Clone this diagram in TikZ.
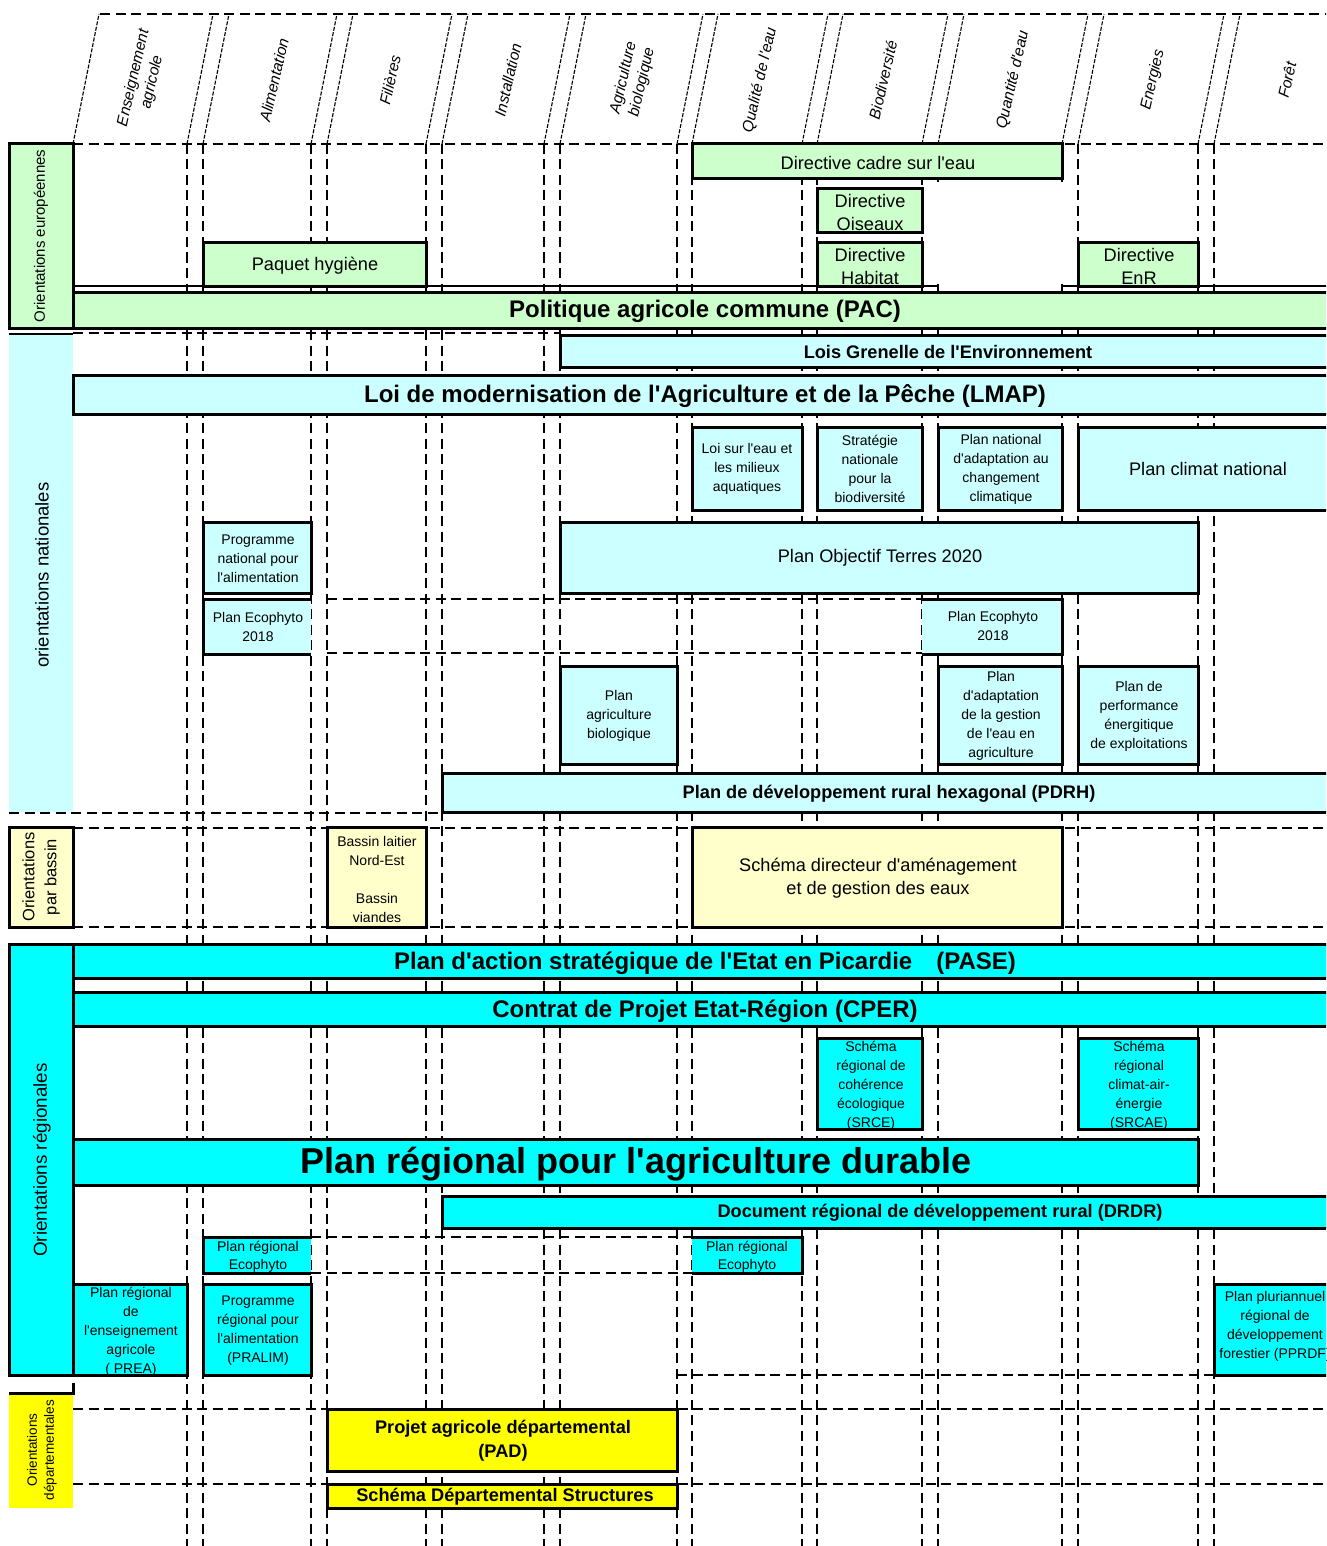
\documentclass[tikz,border=0pt]{standalone}
\usepackage{fontspec}
\setmainfont{Liberation Sans}[Ligatures = TeXOff]
\definecolor{eugreen}{HTML}{CCFFCC}
\definecolor{natcyan}{HTML}{CCFFFF}
\definecolor{basyellow}{HTML}{FFFFCC}
\definecolor{regcyan}{HTML}{00FFFF}
\definecolor{depyellow}{HTML}{FFFF00}
\tikzset{
	griddash/.style = {line width = 2.6pt, dash pattern = on 10pt off 5.5pt},
	slantdash/.style = {line width = 1.1pt, dash pattern = on 4pt off 1.5pt},
	boxline/.style = {line width = 3pt},
	txtsmall/.style = {inner sep = 0pt, align = center, font = \fontsize{14}{19}\selectfont},
	txtmid/.style = {inner sep = 0pt, align = center, font = \fontsize{18.2}{23}\selectfont},
	txtbold/.style = {inner sep = 0pt, align = center, font = \bfseries\fontsize{18.2}{24}\selectfont},
	txtbig/.style = {inner sep = 0pt, align = center, font = \bfseries\fontsize{24}{28}\selectfont},
	txthuge/.style = {inner sep = 0pt, align = center, font = \bfseries\fontsize{36}{40}\selectfont},
	txthead/.style = {inner sep = 0pt, align = center, rotate = 77, font = \itshape\fontsize{15.5}{19}\selectfont},
	txtside/.style = {inner sep = 0pt, align = center, rotate = 90}
}
\begin{document}
\begin{tikzpicture} [x = 1pt, y = -1pt]
	\useasboundingbox (0,0) rectangle (1326,1546);
	\clip (0,0) rectangle (1326,1546);
	\fill [white] (0,0) rectangle (1326,1546);
	% columns
	\foreach \x in {187,203,311,327,426,442,544,560,677,692,802,817,922,938,1062,1078,1198,1214}
		\draw [griddash] (\x,144) -- (\x,1546);
	% header
	\draw [griddash] (100,14) -- (1330,14);
	\draw [griddash] (73,144) -- (1330,144);
	\foreach \x in {73,187,203,311,327,426,442,544,560,677,692,802,817,922,938,1062,1078,1198,1214}
		\draw [slantdash] (\x,144) -- (\x+26,14);
	\foreach \cx/\lbl in {143/{Enseignement\\agricole}, 274/Alimentation, 390/Filières, 508/Installation, 633/{Agriculture\\biologique}, 760/{Qualité de l'eau}, 883/Biodiversité, 1013/{Quantité d'eau}, 1153/Energies, 1287/Forêt}
		\draw (\cx,80) node [txthead] (hd\cx) {\lbl};
	% rows
	\draw [griddash] (73,333) -- (560,333);
	\draw [griddash] (9,813) -- (1330,813);
	\draw [griddash] (73,828) -- (1330,828);
	\draw [griddash] (73,927) -- (1330,927);
	\draw [griddash] (327,599) -- (922,599);
	\draw [griddash] (327,653) -- (922,653);
	\draw [griddash] (311,1237) -- (692,1237);
	\draw [griddash] (311,1273) -- (692,1273);
	\draw [griddash] (677,1375) -- (1214,1375);
	\draw [griddash] (73,1409) -- (1330,1409);
	\draw [griddash] (73,1484) -- (1330,1484);

	% --- orientations europeennes
	\fill [white] (935,182) rectangle (1065,284);
	\draw [line width = 2.2pt] (73,286) -- (938,286) -- (938,291);
	\draw [line width = 2.2pt] (1062,291) -- (1062,286) -- (1330,286);
	\draw [boxline, fill = eugreen] (9,144) rectangle (73,328);
	\draw [boxline, fill = eugreen] (692,144) rectangle (1062,179);
	\draw [boxline, fill = eugreen] (817,189) rectangle (922,233);
	\draw [boxline, fill = eugreen] (817,243) rectangle (922,286);
	\draw [boxline, fill = eugreen] (203,243) rectangle (426,286);
	\draw [boxline, fill = eugreen] (1078,243) rectangle (1198,286);
	\draw [boxline, fill = eugreen] (73,292) rectangle (1330,328);
	\draw (41,236) node [txtside, font = \fontsize{15}{18}\selectfont] (leu) {Orientations européennes};
	\draw (878,163) node [txtmid] (dce) {Directive cadre sur l'eau};
	\draw (870,212) node [txtmid] (oiseaux) {Directive\\Oiseaux};
	\draw (870,266) node [txtmid] (habitat) {Directive\\Habitat};
	\draw (315,266) node [txtmid] (hygiene) {Paquet hygiène};
	\draw (1139,266) node [txtmid] (enr) {Directive\\EnR};
	\draw (705,311) node [txtbig] (pac) {Politique agricole commune (PAC)};

	% --- orientations nationales
	\fill [natcyan] (9,335) rectangle (73,812);
	\draw [line width = 2.2pt] (9,334) -- (73,334);
	\draw [boxline, fill = natcyan] (560,335) rectangle (1330,367);
	\draw [boxline, fill = natcyan] (73,375) rectangle (1330,414);
	\draw [boxline, fill = natcyan] (692,427) rectangle (802,510);
	\draw [boxline, fill = natcyan] (817,427) rectangle (922,510);
	\draw [boxline, fill = natcyan] (938,427) rectangle (1062,510);
	\draw [boxline, fill = natcyan] (1078,427) rectangle (1330,510);
	\draw [boxline, fill = natcyan] (203,522) rectangle (311,593);
	\draw [boxline, fill = natcyan] (560,522) rectangle (1198,593);
	\fill [natcyan] (203,599) rectangle (311,654);
	\draw [boxline] (311,599) -- (203,599) -- (203,654) -- (311,654);
	\fill [natcyan] (922,599) rectangle (1062,654);
	\draw [boxline] (922,599) -- (1062,599) -- (1062,654) -- (922,654);
	\draw [boxline, fill = natcyan] (560,666) rectangle (677,764);
	\draw [boxline, fill = natcyan] (938,666) rectangle (1062,764);
	\draw [boxline, fill = natcyan] (1078,666) rectangle (1198,764);
	\draw [boxline, fill = natcyan] (442,773) rectangle (1330,812);
	\draw (42,575) node [txtside, font = \fontsize{18.5}{22}\selectfont] (lnat) {orientations nationales};
	\draw (948,352) node [txtbold] (grenelle) {Lois Grenelle de l'Environnement};
	\draw (705,396) node [txtbig] (lmap) {Loi de modernisation de l'Agriculture et de la Pêche (LMAP)};
	\draw (747,469) node [txtsmall] (loieau) {Loi sur l'eau et\\les milieux\\aquatiques};
	\draw (870,469) node [txtsmall] (snb) {Stratégie\\nationale\\pour la\\biodiversité};
	\draw (1001,469) node [txtsmall] (pnacc) {Plan national\\d'adaptation au\\changement\\climatique};
	\draw (1208,469) node [txtmid] (climat) {Plan climat national};
	\draw (258,559) node [txtsmall] (pna) {Programme\\national pour\\l'alimentation};
	\draw (880,558) node [txtmid] (terres) {Plan Objectif Terres 2020};
	\draw (258,627) node [txtsmall] (ecoa) {Plan Ecophyto\\2018};
	\draw (993,626) node [txtsmall] (ecob) {Plan Ecophyto\\2018};
	\draw (619,716) node [txtsmall] (bio) {Plan\\agriculture\\biologique};
	\draw (1001,716) node [txtsmall] (eauagri) {Plan\\d'adaptation\\de la gestion\\de l'eau en\\agriculture};
	\draw (1139,716) node [txtsmall] (energie) {Plan de\\performance\\énergitique\\de exploitations};
	\draw (889,794) node [txtbold] (pdrh) {Plan de développement rural hexagonal (PDRH)};

	% --- orientations par bassin
	\draw [boxline, fill = basyellow] (9,827) rectangle (73,927);
	\draw [boxline, fill = basyellow] (327,827) rectangle (426,927);
	\draw [boxline, fill = basyellow] (692,827) rectangle (1062,927);
	\draw (41,877) node [txtside, font = \fontsize{16.5}{22}\selectfont] (lbas) {Orientations\\par bassin};
	\draw (377,879) node [txtsmall] (laitier) {Bassin laitier\\Nord-Est\\[19pt]Bassin\\viandes};
	\draw (878,878) node [txtmid] (sdage) {Schéma directeur d'aménagement\\et de gestion des eaux};

	% --- orientations regionales
	\draw [boxline, fill = regcyan] (9,944) rectangle (73,1375);
	\draw [boxline, fill = regcyan] (73,944) rectangle (1330,978);
	\draw [boxline, fill = regcyan] (73,992) rectangle (1330,1026);
	\draw [boxline, fill = regcyan] (817,1038) rectangle (922,1129);
	\draw [boxline, fill = regcyan] (1078,1038) rectangle (1198,1129);
	\draw [boxline, fill = regcyan] (73,1139) rectangle (1198,1185);
	\draw [boxline, fill = regcyan] (442,1196) rectangle (1330,1228);
	\fill [regcyan] (203,1237) rectangle (311,1273);
	\draw [boxline] (311,1237) -- (203,1237) -- (203,1273) -- (311,1273);
	\fill [regcyan] (692,1237) rectangle (802,1273);
	\draw [boxline] (692,1237) -- (802,1237) -- (802,1273) -- (692,1273);
	\draw [boxline, fill = regcyan] (73,1284) rectangle (187,1375);
	\draw [boxline, fill = regcyan] (203,1284) rectangle (311,1375);
	\draw [boxline, fill = regcyan] (1214,1284) rectangle (1330,1375);
	\draw (42,1160) node [txtside, font = \fontsize{18.8}{22}\selectfont] (lreg) {Orientations régionales};
	\draw (705,963) node [txtbig] (pase) {Plan d'action stratégique de l'Etat en Picardie\hspace{24pt}(PASE)};
	\draw (705,1011) node [txtbig] (cper) {Contrat de Projet Etat-Région (CPER)};
	\draw (871,1086) node [txtsmall] (srce) {Schéma\\régional de\\cohérence\\écologique\\(SRCE)};
	\draw (1139,1086) node [txtsmall] (srcae) {Schéma\\régional\\climat-air-\\énergie\\(SRCAE)};
	\draw (636,1164) node [txthuge] (prad) {Plan régional pour l'agriculture durable};
	\draw (940,1213) node [txtbold] (drdr) {Document régional de développement rural (DRDR)};
	\draw (258,1257) node [txtsmall, font = \fontsize{14}{18}\selectfont] (ecorega) {Plan régional\\Ecophyto};
	\draw (747,1257) node [txtsmall, font = \fontsize{14}{18}\selectfont] (ecoregb) {Plan régional\\Ecophyto};
	\draw (131,1332) node [txtsmall] (prea) {Plan régional\\de\\l'enseignement\\agricole\\( PREA)};
	\draw (258,1331) node [txtsmall] (pralim) {Programme\\régional pour\\l'alimentation\\(PRALIM)};
	\draw (1275,1326) node [txtsmall] (pprdf) {Plan pluriannuel\\régional de\\développement\\forestier (PPRDF)};

	% --- orientations departementales
	\fill [depyellow] (9,1394) rectangle (73,1508);
	\draw [boxline] (9,1393) -- (73,1393) -- (73,1383);
	\draw [boxline, fill = depyellow] (327,1409) rectangle (677,1471);
	\draw [boxline, fill = depyellow] (327,1484) rectangle (677,1508);
	\draw (42,1450) node [txtside, font = \fontsize{13.5}{17}\selectfont] (ldep) {Orientations\\départementales};
	\draw (503,1441) node [txtbold] (pad) {Projet agricole départemental\\(PAD)};
	\draw (505,1497) node [txtbold] (sds) {Schéma Départemental Structures};
	%\draw (0,0) node {};
\end{tikzpicture}
\end{document}
